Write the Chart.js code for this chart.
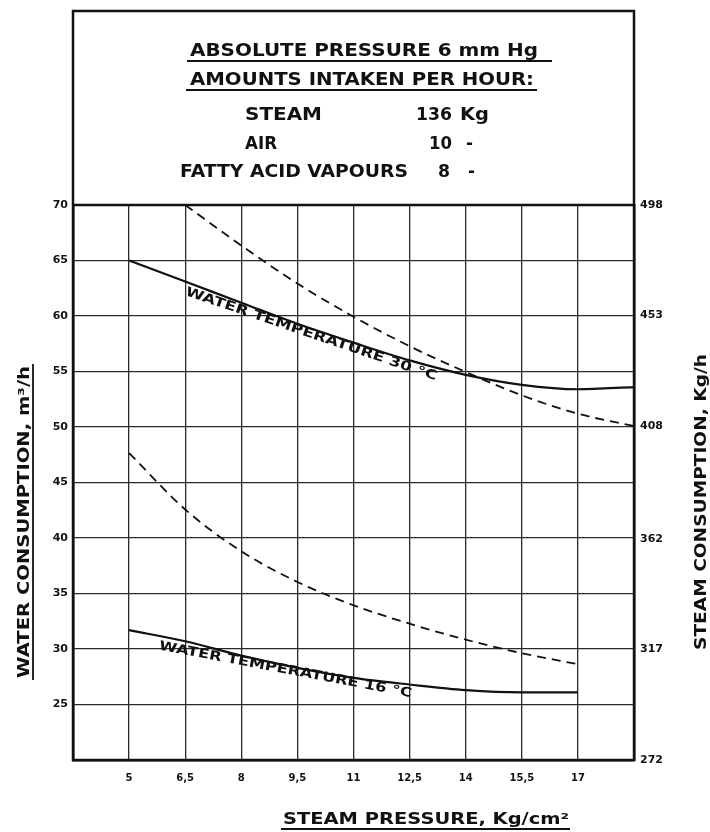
<!DOCTYPE html>
<html>
<head>
<meta charset="utf-8">
<script src="https://cdn.jsdelivr.net/npm/chart.js@4.4.0/dist/chart.umd.min.js"></script>
<style>
  html, body { margin: 0; padding: 0; background: #fff; }
</style>
</head>
<body>
<canvas id="chart" width="710" height="832"></canvas>
<script>
// steam pressure, kg/cm2
const pressure = [5, 6.5, 8, 9.5, 11, 12.5, 14, 15.5, 17, 18.5];
const pressureSteam30 = [6.5, 8, 9.5, 11, 12.5, 14, 15.5, 17, 18.5];
const pressure16 = [5, 6.5, 8, 9.5, 11, 12.5, 14, 15.5, 17];

// water consumption m3/h (left axis)
const water30 = [65, 63.1, 61.2, 59.3, 57.6, 56.0, 54.7, 53.8, 53.4, 53.6];
const water16 = [31.7, 30.7, 29.4, 28.3, 27.4, 26.8, 26.3, 26.1, 26.1];

// steam consumption kg/h (right axis)
const steam30 = [498, 481.5, 466, 452.5, 440.5, 430, 420.5, 413, 408];
const steam16 = [397, 374, 357, 344.5, 335, 327.5, 321, 315.5, 311];

const xTicks = [3.5, 5, 6.5, 8, 9.5, 11, 12.5, 14, 15.5, 17, 18.5];
const xTickLabels = ['', '5', '6,5', '8', '9,5', '11', '12,5', '14', '15,5', '17', ''];
const waterTicks = [20, 25, 30, 35, 40, 45, 50, 55, 60, 65, 70];
const waterTickLabels = ['', '25', '30', '35', '40', '45', '50', '55', '60', '65', '70'];
const steamTicks = [272, 317, 362, 408, 453, 498];

const pts = (xs, ys) => xs.map((x, i) => ({ x: x, y: ys[i] }));

function fitText(ctx, text, x, y, w) {
  const m = ctx.measureText(text).width;
  ctx.save();
  ctx.translate(x, y);
  ctx.scale(w / m, 1);
  ctx.fillText(text, 0, 0);
  ctx.restore();
}

function textAlong(ctx, text, p1, p2, offset) {
  const ang = Math.atan2(p2.y - p1.y, p2.x - p1.x);
  const len = Math.hypot(p2.x - p1.x, p2.y - p1.y);
  const m = ctx.measureText(text).width;
  ctx.save();
  ctx.translate(p1.x, p1.y);
  ctx.rotate(ang);
  ctx.translate(0, offset);
  ctx.scale(len / m, 1);
  ctx.textBaseline = 'top';
  ctx.fillText(text, 0, 0);
  ctx.restore();
}

const decor = {
  id: 'decor',
  afterDraw(chart) {
    const ctx = chart.ctx;
    const a = chart.chartArea;
    const xs = chart.scales.x, ys = chart.scales.y;
    ctx.save();
    ctx.fillStyle = '#111';
    ctx.strokeStyle = '#111';

    // frame incl. header box
    ctx.lineWidth = 2.5;
    ctx.strokeRect(a.left, 11, a.right - a.left, a.bottom - 11);
    ctx.beginPath();
    ctx.moveTo(a.left, a.top);
    ctx.lineTo(a.right, a.top);
    ctx.stroke();

    // header text
    ctx.font = 'bold 17px "DejaVu Sans"';
    ctx.textBaseline = 'alphabetic';
    ctx.textAlign = 'left';
    fitText(ctx, 'ABSOLUTE PRESSURE 6 mm Hg', 190, 56, 348);
    fitText(ctx, 'AMOUNTS INTAKEN PER HOUR:', 190, 85, 344);
    ctx.lineWidth = 2;
    ctx.beginPath();
    ctx.moveTo(187, 61); ctx.lineTo(552, 61);
    ctx.moveTo(186, 90); ctx.lineTo(537, 90);
    ctx.stroke();

    fitText(ctx, 'STEAM', 245, 120, 77);
    fitText(ctx, '136', 416, 120, 36);
    fitText(ctx, 'Kg', 460, 120, 29);
    fitText(ctx, 'AIR', 245, 149, 32);
    fitText(ctx, '10', 429, 149, 23);
    fitText(ctx, '-', 466, 149, 7);
    fitText(ctx, 'FATTY ACID VAPOURS', 180, 177, 228);
    fitText(ctx, '8', 438, 177, 12);
    fitText(ctx, '-', 468, 177, 7);

    // axis titles
    ctx.font = 'bold 15px "DejaVu Sans"';
    ctx.save();
    ctx.translate(29, 522);
    ctx.rotate(-Math.PI / 2);
    fitText(ctx, 'WATER CONSUMPTION, m\u00b3/h', -156, 0, 312);
    ctx.lineWidth = 1.8;
    ctx.beginPath();
    ctx.moveTo(-158, 4); ctx.lineTo(158, 4);
    ctx.stroke();
    ctx.restore();

    ctx.save();
    ctx.translate(706, 502);
    ctx.rotate(-Math.PI / 2);
    fitText(ctx, 'STEAM CONSUMPTION, Kg/h', -148, 0, 296);
    ctx.restore();

    fitText(ctx, 'STEAM PRESSURE, Kg/cm\u00b2', 283, 824, 286);
    ctx.lineWidth = 1.8;
    ctx.beginPath();
    ctx.moveTo(281, 829); ctx.lineTo(570, 829);
    ctx.stroke();

    // curve labels
    ctx.font = 'bold 13px "DejaVu Sans"';
    textAlong(ctx, 'WATER TEMPERATURE 30 \u00b0C',
      { x: xs.getPixelForValue(6.6), y: ys.getPixelForValue(63.0) },
      { x: xs.getPixelForValue(13.3), y: ys.getPixelForValue(55.3) }, 3);
    textAlong(ctx, 'WATER TEMPERATURE 16 \u00b0C',
      { x: xs.getPixelForValue(5.85), y: ys.getPixelForValue(31.1) },
      { x: xs.getPixelForValue(12.6), y: ys.getPixelForValue(26.8) }, 3);
    ctx.restore();
  }
};

const ctx = document.getElementById('chart').getContext('2d');
new Chart(ctx, {
  type: 'line',
  data: {
    datasets: [
      { data: pts(pressure, water30), yAxisID: 'y', borderColor: '#111', borderWidth: 2.2 },
      { data: pts(pressureSteam30, steam30), yAxisID: 'y2', borderColor: '#111', borderWidth: 1.8, borderDash: [9, 6] },
      { data: pts(pressure16, water16), yAxisID: 'y', borderColor: '#111', borderWidth: 2.2 },
      { data: pts(pressure16, steam16), yAxisID: 'y2', borderColor: '#111', borderWidth: 1.8, borderDash: [9, 6] }
    ]
  },
  options: {
    responsive: false,
    animation: false,
    layout: { padding: { top: 205, left: 0, right: 0, bottom: 0 } },
    elements: {
      point: { radius: 0 },
      line: { cubicInterpolationMode: 'monotone', fill: false }
    },
    plugins: { legend: { display: false }, tooltip: { enabled: false } },
    scales: {
      x: {
        type: 'linear', min: 3.5, max: 18.5,
        afterBuildTicks: s => { s.ticks = xTicks.map(v => ({ value: v })); },
        afterFit: s => { s.height = 72; },
        ticks: {
          callback: (v, i) => xTickLabels[i],
          autoSkip: false, maxRotation: 0, padding: 12,
          color: '#111', font: { family: 'DejaVu Sans', size: 10, weight: 'bold' }
        },
        grid: { color: '#2a2a2a', lineWidth: 1.3, drawTicks: false },
        border: { color: '#111', width: 2.5 }
      },
      y: {
        position: 'left', min: 20, max: 70,
        afterBuildTicks: s => { s.ticks = waterTicks.map(v => ({ value: v })); },
        afterFit: s => { s.width = 73; },
        ticks: {
          callback: (v, i) => waterTickLabels[i],
          autoSkip: false, padding: 5,
          color: '#111', font: { family: 'DejaVu Sans', size: 11, weight: 'bold' }
        },
        grid: { color: '#2a2a2a', lineWidth: 1.3, drawTicks: false },
        border: { color: '#111', width: 2.5 }
      },
      y2: {
        position: 'right', min: 272, max: 498,
        afterBuildTicks: s => { s.ticks = steamTicks.map(v => ({ value: v })); },
        afterFit: s => { s.width = 76; },
        ticks: {
          autoSkip: false, padding: 6,
          color: '#111', font: { family: 'DejaVu Sans', size: 11, weight: 'bold' }
        },
        grid: { display: false, drawTicks: false },
        border: { color: '#111', width: 2.5 }
      }
    }
  },
  plugins: [decor]
});
</script>
</body>
</html>
